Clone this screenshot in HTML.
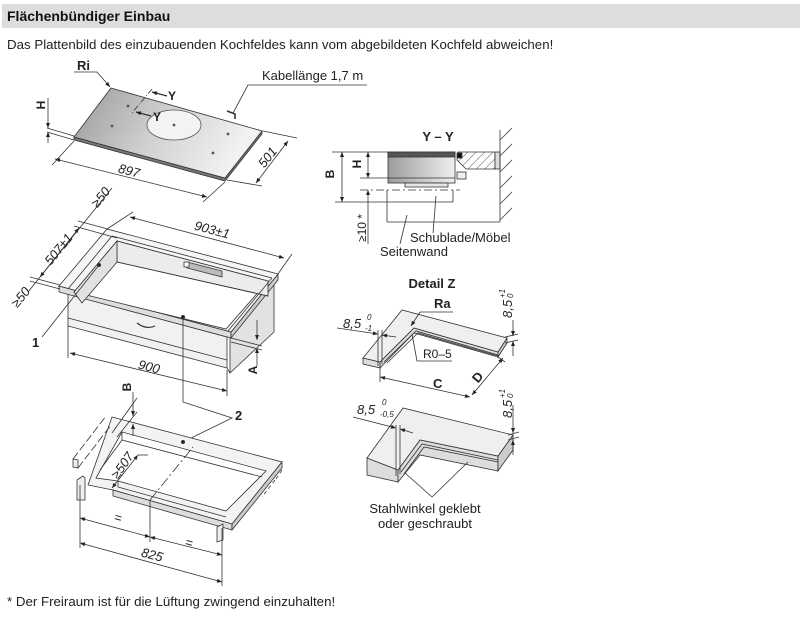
<!DOCTYPE html>
<html><head><meta charset="utf-8"><style>
html,body{margin:0;padding:0;background:#fff;}
svg{display:block;font-family:"Liberation Sans",Arial,sans-serif;}
</style></head><body>
<svg width="800" height="623" viewBox="0 0 800 623" xmlns="http://www.w3.org/2000/svg">
<defs>
<marker id="a" viewBox="0 0 10 10" refX="10" refY="5" markerWidth="7" markerHeight="5" orient="auto-start-reverse" markerUnits="userSpaceOnUse"><path d="M0,1 L10,5 L0,9z" fill="#222"/></marker>
<linearGradient id="g1" x1="0" y1="0" x2="1" y2="0.3"><stop offset="0" stop-color="#9a9a9a"/><stop offset="0.55" stop-color="#d2d2d2"/><stop offset="1" stop-color="#f2f2f2"/></linearGradient>
<linearGradient id="g2" x1="0" y1="0" x2="1" y2="0"><stop offset="0" stop-color="#9c9c9c"/><stop offset="1" stop-color="#f0f0f0"/></linearGradient>
<pattern id="h" width="6" height="6" patternUnits="userSpaceOnUse" patternTransform="rotate(45)"><line x1="0" y1="0" x2="0" y2="6" stroke="#333" stroke-width="0.9"/></pattern>
</defs>

<!-- header -->
<rect x="2" y="4" width="798" height="24" fill="#dcdddf"/>
<text x="7" y="21" font-size="14" font-weight="bold" fill="#111">Flächenbündiger Einbau</text>
<text x="7" y="49" font-size="13.3" fill="#222">Das Plattenbild des einzubauenden Kochfeldes kann vom abgebildeten Kochfeld abweichen!</text>
<text x="7" y="606" font-size="13.3" fill="#222">* Der Freiraum ist für die Lüftung zwingend einzuhalten!</text>

<g stroke="#333" stroke-width="0.8" fill="none">
<!-- ===== Cooktop ===== -->
<polygon points="74,137 225,178 262,131 262,134 225,181 74,140" fill="#777"/>
<polygon points="111,88 262,131 225,178 74,137" fill="url(#g1)"/>
<ellipse cx="174" cy="125" rx="27" ry="15" fill="#f3f3f3" stroke="#555"/>
<g fill="#555" stroke="none"><circle cx="128" cy="106" r="1.4"/><circle cx="112" cy="126" r="1.4"/><circle cx="174" cy="125" r="1.4"/><circle cx="228" cy="134" r="1.4"/><circle cx="213" cy="153" r="1.4"/></g>
<polyline points="227,111 235,114 235,119" stroke-width="1.6"/>
<polyline points="233,113 248,85 367,85"/>
<polyline points="74,72 97,72 110,87" marker-end="url(#a)"/>
<line x1="152" y1="89" x2="132" y2="113" stroke-dasharray="6,2,1,2"/>
<line x1="167" y1="96" x2="152" y2="92" stroke-width="1.2" marker-end="url(#a)"/>
<line x1="151" y1="116" x2="136" y2="112" stroke-width="1.2" marker-end="url(#a)"/>
<!-- H dim -->
<line x1="47" y1="128" x2="74" y2="136"/>
<line x1="47" y1="132" x2="74" y2="140"/>
<line x1="48" y1="98" x2="48" y2="128" marker-end="url(#a)"/>
<line x1="48" y1="143" x2="48" y2="132" marker-end="url(#a)"/>
<!-- 897 -->
<line x1="74" y1="141" x2="52" y2="165"/>
<line x1="225" y1="182" x2="203" y2="202"/>
<line x1="55" y1="159" x2="207" y2="197" marker-start="url(#a)" marker-end="url(#a)"/>
<!-- 501 -->
<line x1="263" y1="131" x2="297" y2="138"/>
<line x1="227" y1="180" x2="262" y2="186"/>
<line x1="288" y1="141" x2="256" y2="183" marker-start="url(#a)" marker-end="url(#a)"/>

<!-- ===== Middle box ===== -->
<polygon points="68,294 227,337 227,368 68,326" fill="#f1f1f1"/>
<line x1="68" y1="318" x2="227" y2="360"/>
<path d="M137,323 Q146,330 155,326" stroke-width="1.2"/>
<polygon points="230,337 274,282 274,332 230,373" fill="#e2e2e2"/>
<line x1="227" y1="368" x2="230" y2="373"/>
<polygon points="59,286 231,332 231,338 59,292" fill="#ddd"/>
<polygon points="231,332 278,274 278,280 231,338" fill="#ccc"/>
<polygon points="59,286 107,229 278,274 231,332" fill="#f6f6f6"/>
<polygon points="74,292 117,241 268,281 226,329" fill="#fff"/>
<polygon points="117,241 268,281 268,296 117,262" fill="#ececec"/>
<polygon points="117,241 117,262 82,303 74,292" fill="#e2e2e2"/>
<line x1="117" y1="262" x2="268" y2="296"/>
<line x1="68" y1="289" x2="112" y2="236"/>
<line x1="112" y1="236" x2="272" y2="278"/>
<line x1="272" y1="278" x2="228" y2="331"/>
<polygon points="187,262 222,271 222,277 187,268" fill="#bbb"/>
<rect x="184" y="262" width="5" height="5" fill="#fff"/>
<circle cx="99" cy="265" r="1.6" fill="#222"/>
<line x1="42" y1="337" x2="99" y2="265"/>
<!-- 903 -->
<line x1="107" y1="229" x2="133" y2="212"/>
<line x1="278" y1="274" x2="292" y2="254"/>
<line x1="130" y1="217" x2="284" y2="258" marker-start="url(#a)" marker-end="url(#a)"/>
<!-- left dims -->
<line x1="78" y1="221" x2="108" y2="229"/>
<line x1="74" y1="226" x2="117" y2="238"/>
<line x1="30" y1="277" x2="60" y2="285"/>
<line x1="30" y1="281" x2="60" y2="289"/>
<line x1="28" y1="292" x2="112" y2="188"/>
<line x1="40" y1="277" x2="79" y2="228" marker-start="url(#a)" marker-end="url(#a)"/>
<!-- 900 -->
<line x1="68" y1="326" x2="68" y2="358"/>
<line x1="227" y1="370" x2="227" y2="396"/>
<line x1="70" y1="353" x2="227" y2="391" marker-start="url(#a)" marker-end="url(#a)"/>
<!-- A -->
<line x1="231" y1="338" x2="262" y2="346"/>
<line x1="231" y1="342" x2="262" y2="350"/>
<line x1="257" y1="320" x2="257" y2="340" marker-end="url(#a)"/>
<line x1="257" y1="366" x2="257" y2="348" marker-end="url(#a)"/>
<!-- leader 2 -->
<circle cx="183" cy="317" r="1.6" fill="#222"/>
<polyline points="183,317 183,402 232,418 183,442"/>

<!-- ===== Lower frame ===== -->
<path d="M112,417 L282,462 L232,524 L113,490 L88,485 Z M122,432 L266,471 L226,511 L118,481 L96,478 Z" fill="#f3f3f3" fill-rule="evenodd"/>
<polygon points="113,490 232,524 232,530 113,496" fill="#ddd"/>
<polygon points="232,524 282,462 282,468 232,530" fill="#ccc"/>
<line x1="118" y1="481" x2="118" y2="487"/>
<line x1="118" y1="487" x2="226" y2="517"/>
<line x1="122" y1="432" x2="122" y2="440"/>
<line x1="122" y1="440" x2="262" y2="477"/>
<line x1="100" y1="470" x2="122" y2="440"/>
<circle cx="183" cy="442" r="1.6" fill="#222"/>
<line x1="150" y1="500" x2="193" y2="447" stroke-dasharray="10,3,2,3"/>
<line x1="73" y1="459" x2="106" y2="416" stroke-dasharray="8,3"/>
<line x1="78" y1="468" x2="111" y2="425" stroke-dasharray="8,3"/>
<polygon points="73,459 78,460 78,468 73,467" fill="#eee"/>
<polygon points="77,480 83,476 85,478 85,500 77,500" fill="#eee"/>
<polygon points="217,527 223,524 223,540 217,542" fill="#eee"/>
<line x1="282" y1="470" x2="274" y2="482" stroke-dasharray="4,3"/>
<line x1="275" y1="480" x2="262" y2="497" stroke-dasharray="4,3"/>
<!-- B lower -->
<line x1="137" y1="398" x2="112" y2="433"/>
<line x1="137" y1="412" x2="117" y2="437"/>
<line x1="133" y1="392" x2="133" y2="416" marker-end="url(#a)"/>
<line x1="133" y1="436" x2="133" y2="424" marker-end="url(#a)"/>
<!-- >=507 -->
<line x1="112" y1="488" x2="138" y2="455" marker-start="url(#a)" marker-end="url(#a)"/>
<line x1="138" y1="455" x2="148" y2="455"/>
<!-- bottom dims -->
<line x1="80" y1="485" x2="80" y2="548"/>
<line x1="150" y1="500" x2="150" y2="542"/>
<line x1="222" y1="528" x2="222" y2="586"/>
<line x1="80" y1="518" x2="150" y2="537" marker-start="url(#a)" marker-end="url(#a)"/>
<line x1="150" y1="537" x2="222" y2="555" marker-start="url(#a)" marker-end="url(#a)"/>
<line x1="80" y1="543" x2="222" y2="582" marker-start="url(#a)" marker-end="url(#a)"/>

<!-- ===== Section Y-Y ===== -->
<line x1="332" y1="152" x2="388" y2="152"/>
<rect x="388" y="152" width="67" height="31" fill="url(#g2)"/>
<rect x="388" y="152" width="67" height="5" fill="#555"/>
<rect x="405" y="183" width="43" height="4" fill="#e6e6e6"/>
<polygon points="458,152 495,152 495,169 466,169 457,160" fill="url(#h)"/>
<rect x="495" y="152" width="5" height="17" fill="#ddd"/>
<rect x="457" y="153" width="5" height="5" fill="#111"/>
<rect x="457" y="172" width="9" height="7" fill="#eee"/>
<line x1="500" y1="130" x2="500" y2="222"/>
<g stroke="#444"><line x1="500" y1="140" x2="512" y2="128"/><line x1="500" y1="156" x2="512" y2="144"/><line x1="500" y1="172" x2="512" y2="160"/><line x1="500" y1="188" x2="512" y2="176"/><line x1="500" y1="204" x2="512" y2="192"/><line x1="500" y1="220" x2="512" y2="208"/></g>
<line x1="360" y1="178" x2="455" y2="178"/>
<line x1="360" y1="190" x2="460" y2="190" stroke-dasharray="8,3,2,3"/>
<line x1="335" y1="202" x2="387" y2="202"/>
<line x1="387" y1="190" x2="387" y2="222"/>
<line x1="387" y1="202" x2="453" y2="202"/>
<line x1="453" y1="190" x2="453" y2="202"/>
<line x1="387" y1="222" x2="500" y2="222"/>
<line x1="342" y1="152" x2="342" y2="202" marker-start="url(#a)" marker-end="url(#a)"/>
<line x1="368" y1="152" x2="368" y2="178" marker-start="url(#a)" marker-end="url(#a)"/>
<line x1="368" y1="244" x2="368" y2="190" marker-end="url(#a)"/>
<line x1="436" y1="196" x2="433" y2="233"/>
<line x1="407" y1="215" x2="400" y2="244"/>

<!-- ===== Detail Z ===== -->
<polygon points="363,358 380,362 380,368 363,364" fill="#ddd"/>
<polygon points="414,328 498,352 498,357 414,333 380,368 380,362" fill="#ddd"/>
<polygon points="507,338 498,352 498,357 507,343" fill="#ccc"/>
<polygon points="363,358 402,310 507,338 498,352 414,328 380,362" fill="#efefef"/>
<polyline points="384,362 416,331 498,355"/>
<polyline points="387,363 418,333 498,356"/>
<line x1="337" y1="328" x2="378" y2="334" marker-end="url(#a)"/>
<line x1="396" y1="337" x2="382" y2="335" marker-end="url(#a)"/>
<line x1="378" y1="330" x2="378" y2="366"/>
<line x1="382" y1="330" x2="382" y2="364"/>
<line x1="380" y1="368" x2="380" y2="382"/>
<line x1="498" y1="357" x2="505" y2="362"/>
<line x1="380" y1="377" x2="470" y2="397" marker-start="url(#a)" marker-end="url(#a)"/>
<line x1="472" y1="395" x2="503" y2="358" marker-start="url(#a)" marker-end="url(#a)"/>
<polyline points="453,312 420,312"/>
<line x1="420" y1="312" x2="411" y2="326" marker-end="url(#a)"/>
<polyline points="412,334 417,361 452,361"/>
<line x1="505" y1="337" x2="518" y2="334"/>
<line x1="505" y1="343" x2="518" y2="340"/>
<line x1="513" y1="320" x2="513" y2="336" marker-end="url(#a)"/>
<line x1="513" y1="356" x2="513" y2="341" marker-end="url(#a)"/>

<!-- ===== Lower detail ===== -->
<polygon points="367,458 398,470 398,482 367,475" fill="#ddd"/>
<polygon points="398,470 420,440 498,456 498,471 420,455 398,482" fill="#ddd"/>
<polygon points="513,435 498,456 498,471 513,450" fill="#ccc"/>
<polygon points="367,458 403,408 513,435 498,456 420,440 398,470" fill="#efefef"/>
<polyline points="401,472 422,444 498,460"/>
<polyline points="404,474 424,447 498,462"/>
<line x1="353" y1="417" x2="396" y2="428" marker-end="url(#a)"/>
<line x1="413" y1="433" x2="400" y2="429" marker-end="url(#a)"/>
<line x1="396" y1="425" x2="396" y2="476"/>
<line x1="400" y1="425" x2="400" y2="474"/>
<line x1="513" y1="405" x2="513" y2="433" marker-end="url(#a)"/>
<line x1="513" y1="455" x2="513" y2="440" marker-end="url(#a)"/>
<line x1="508" y1="435" x2="519" y2="432"/>
<line x1="508" y1="440" x2="519" y2="437"/>
<polyline points="405,473 432,497 468,462"/>
</g>

<!-- ===== Texts ===== -->
<g fill="#222" font-size="13">
<text x="77" y="70" font-weight="bold" font-size="13">Ri</text>
<text x="262" y="80">Kabellänge 1,7 m</text>
<text x="168" y="100" font-weight="bold" font-size="12">Y</text>
<text x="153" y="121" font-weight="bold" font-size="12">Y</text>
<text transform="translate(45,105) rotate(-90)" text-anchor="middle" font-weight="bold" font-size="12">H</text>
<text transform="translate(128,175) rotate(15)" text-anchor="middle" font-style="italic">897</text>
<text transform="translate(271,160) rotate(-52)" text-anchor="middle" font-style="italic">501</text>
<text transform="translate(211,234) rotate(15)" text-anchor="middle" font-style="italic">903±1</text>
<text transform="translate(104,200) rotate(-51)" text-anchor="middle" font-style="italic">≥50</text>
<text transform="translate(62,252) rotate(-51)" text-anchor="middle" font-style="italic">507±1</text>
<text transform="translate(24,300) rotate(-51)" text-anchor="middle" font-style="italic">≥50</text>
<text x="32" y="347" font-weight="bold">1</text>
<text transform="translate(148,371) rotate(14)" text-anchor="middle" font-style="italic">900</text>
<text transform="translate(257,370) rotate(-90)" text-anchor="middle" font-weight="bold" font-size="12">A</text>
<text x="235" y="420" font-weight="bold">2</text>
<text transform="translate(131,387) rotate(-90)" text-anchor="middle" font-weight="bold" font-size="12">B</text>
<text transform="translate(126,468) rotate(-55)" text-anchor="middle" font-style="italic">≥507</text>
<text transform="translate(117,522) rotate(15)" text-anchor="middle">=</text>
<text transform="translate(188,547) rotate(15)" text-anchor="middle">=</text>
<text transform="translate(151,559) rotate(15)" text-anchor="middle" font-style="italic">825</text>

<text x="438" y="141" text-anchor="middle" font-weight="bold">Y – Y</text>
<text transform="translate(334,174) rotate(-90)" text-anchor="middle" font-weight="bold" font-size="12">B</text>
<text transform="translate(361,164) rotate(-90)" text-anchor="middle" font-weight="bold" font-size="12">H</text>
<text transform="translate(366,228) rotate(-90)" text-anchor="middle" font-size="12">≥10 *</text>
<text x="410" y="242">Schublade/Möbel</text>
<text x="380" y="256">Seitenwand</text>

<text x="432" y="288" text-anchor="middle" font-weight="bold">Detail Z</text>
<text x="434" y="308" font-weight="bold">Ra</text>
<text x="343" y="328" font-style="italic">8,5</text>
<text x="367" y="320" font-size="8" font-style="italic">0</text>
<text x="365" y="331" font-size="8" font-style="italic">-1</text>
<text x="423" y="358" font-size="12">R0–5</text>
<text x="433" y="388" font-weight="bold">C</text>
<text transform="translate(481,380) rotate(-50)" text-anchor="middle" font-weight="bold">D</text>
<text transform="translate(512,318) rotate(-90)" font-style="italic">8,5</text>
<text transform="translate(505,298) rotate(-90)" font-size="8" font-style="italic">+1</text>
<text transform="translate(513,298) rotate(-90)" font-size="8" font-style="italic">0</text>

<text x="357" y="414" font-style="italic">8,5</text>
<text x="382" y="405" font-size="8" font-style="italic">0</text>
<text x="380" y="417" font-size="8" font-style="italic">-0,5</text>
<text transform="translate(512,418) rotate(-90)" font-style="italic">8,5</text>
<text transform="translate(505,398) rotate(-90)" font-size="8" font-style="italic">+1</text>
<text transform="translate(513,398) rotate(-90)" font-size="8" font-style="italic">0</text>
<text x="425" y="513" text-anchor="middle">Stahlwinkel geklebt</text>
<text x="425" y="528" text-anchor="middle">oder geschraubt</text>
</g>
</svg>
</body></html>
